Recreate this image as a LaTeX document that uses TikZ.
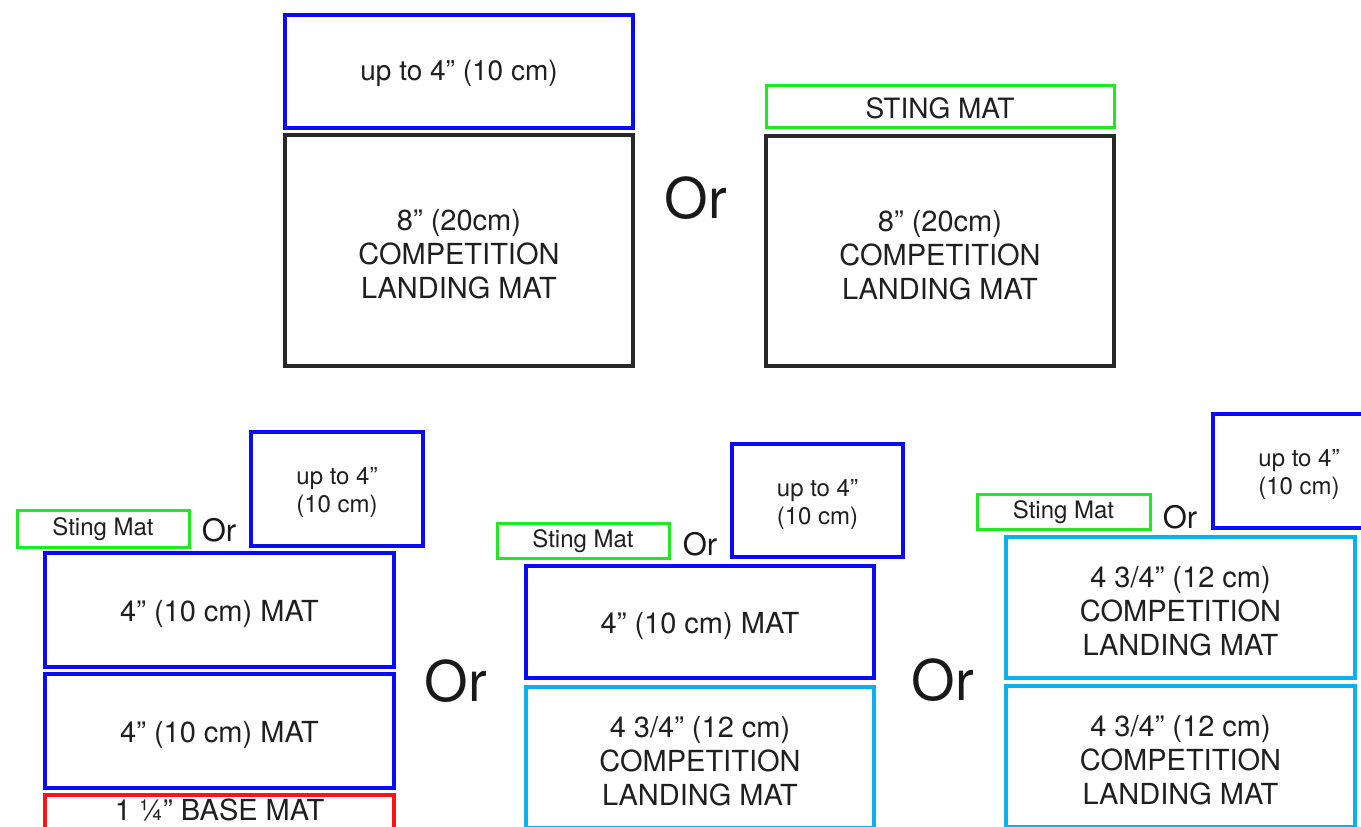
\documentclass[tikz,border=0pt]{standalone}
\usepackage{fontspec}
\setmainfont{TeX Gyre Heros}
\definecolor{matblue}{RGB}{10,10,245}
\definecolor{stinggreen}{RGB}{30,235,30}
\definecolor{landcyan}{RGB}{10,176,240}
\definecolor{basered}{RGB}{250,20,20}
\definecolor{landblack}{RGB}{40,40,40}
\tikzset{
  mat box/.style={draw, line width=3.5pt, inner sep=0pt},
  landing mat/.style={mat box, draw=landblack},
  foam mat/.style={mat box, draw=matblue},
  sting mat/.style={mat box, draw=stinggreen, line width=3pt},
  cyan mat/.style={mat box, draw=landcyan},
  base mat/.style={mat box, draw=basered},
  mat text/.style={inner sep=0pt, align=center, text=black!88, font=\fontsize{29}{34}\selectfont, yshift=-4pt},
  base text/.style={mat text, yshift=6pt},
  small text/.style={mat text, font=\fontsize{24}{28}\selectfont},
  label text/.style={mat text, font=\fontsize{28}{32}\selectfont, yshift=2pt},
  sting text/.style={small text, yshift=3pt},
  big or/.style={inner sep=0pt, text=black!90, font=\fontsize{56}{60}\selectfont},
  small or/.style={inner sep=0pt, text=black!90, font=\fontsize{31}{34}\selectfont},
}
% box style, text style, name, left, top, right, bottom, text
\newcommand{\drawMat}[8]{
  \node[#1, minimum width={#6-#4}, minimum height={#7-#5}] (#3) at ({(#4+#6)/2},{(#5+#7)/2}) {};
  \node[#2] (#3 text) at (#3.center) {#8};
}

\begin{document}
\begin{tikzpicture}[x=1pt, y=-1pt]
  \useasboundingbox (0,0) rectangle (1361,827);
  \clip (0,0) rectangle (1361,827);
  % top row
  \drawMat{foam mat}{label text}{uptoA}{285}{15}{633}{128}{up to 4” (10 cm)}
  \drawMat{landing mat}{mat text}{compA}{285}{135}{633}{366}{8” (20cm)\\COMPETITION\\LANDING MAT}
  \node[big or] (orA) at (696,198) {Or};
  \drawMat{sting mat}{label text}{stingA}{766}{85}{1114}{127}{STING MAT}
  \drawMat{landing mat}{mat text}{compB}{766}{136}{1114}{366}{8” (20cm)\\COMPETITION\\LANDING MAT}

  % bottom left stack
  \drawMat{sting mat}{sting text}{stingB}{17}{510}{189}{547}{Sting Mat}
  \node[small or] (orB) at (219,530) {Or};
  \drawMat{foam mat}{small text}{uptoB}{251}{432}{423}{546}{up to 4”\\(10 cm)}
  \drawMat{foam mat}{mat text}{matB1}{45}{553}{394}{667}{4” (10 cm) MAT}
  \drawMat{foam mat}{mat text}{matB2}{45}{674}{394}{788}{4” (10 cm) MAT}
  \drawMat{base mat}{base text}{baseB}{45}{795}{394}{830}{1 ¼” BASE MAT}
  \node[big or] (orC) at (456,681) {Or};

  % bottom middle stack
  \drawMat{sting mat}{sting text}{stingC}{497}{523}{669}{558}{Sting Mat}
  \node[small or] (orD) at (700,544) {Or};
  \drawMat{foam mat}{small text}{uptoC}{732}{444}{903}{557}{up to 4”\\(10 cm)}
  \drawMat{foam mat}{mat text}{matC}{526}{566}{874}{678}{4” (10 cm) MAT}
  \drawMat{cyan mat}{mat text}{compC}{526}{687}{874}{828}{4 3/4” (12 cm)\\COMPETITION\\LANDING MAT}
  \node[big or] (orE) at (943,680) {Or};

  % bottom right stack
  \drawMat{sting mat}{sting text}{stingD}{977}{494}{1150}{529}{Sting Mat}
  \node[small or] (orF) at (1180,517) {Or};
  \drawMat{foam mat}{small text}{uptoD}{1213}{414}{1385}{528}{up to 4”\\(10 cm)}
  \drawMat{cyan mat}{mat text}{compD}{1006}{537}{1355}{678}{4 3/4” (12 cm)\\COMPETITION\\LANDING MAT}
  \drawMat{cyan mat}{mat text}{compE}{1006}{686}{1355}{827}{4 3/4” (12 cm)\\COMPETITION\\LANDING MAT}
\end{tikzpicture}
\end{document}
